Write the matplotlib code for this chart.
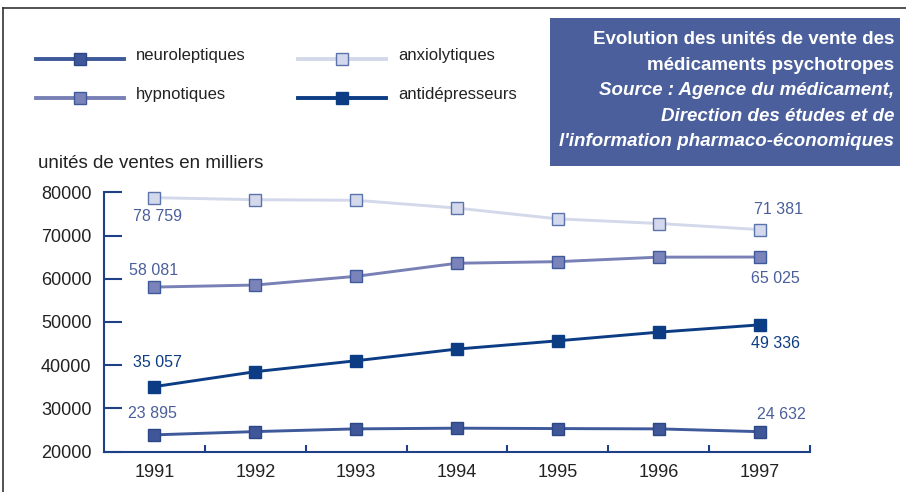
import matplotlib
matplotlib.use("Agg")
import matplotlib.pyplot as plt
from matplotlib import font_manager
from matplotlib.lines import Line2D
from matplotlib.patches import Rectangle

years = [1991, 1992, 1993, 1994, 1995, 1996, 1997]
neuroleptiques = [23895, 24650, 25280, 25440, 25350, 25280, 24632]
anxiolytiques = [78759, 78290, 78150, 76350, 73860, 72780, 71381]
hypnotiques = [58081, 58550, 60570, 63590, 63960, 65000, 65025]
antidepresseurs = [35057, 38510, 41040, 43740, 45650, 47650, 49336]

first_labels = ["23 895", "78 759", "58 081", "35 057"]
last_labels = ["24 632", "71 381", "65 025", "49 336"]
yticks = [20000, 30000, 40000, 50000, 60000, 70000, 80000]

title_lines = ["Evolution des unités de vente des",
               "médicaments psychotropes",
               "Source : Agence du médicament,",
               "Direction des études et de",
               "l'information pharmaco-économiques"]

installed = {f.name for f in font_manager.fontManager.ttflist}
base_font = "Liberation Sans" if "Liberation Sans" in installed else "DejaVu Sans"
narrow_font = "Liberation Sans Narrow" if "Liberation Sans Narrow" in installed else base_font
plt.rcParams['font.family'] = [base_font, 'DejaVu Sans']

axis_col = "#1d4086"
box_col = "#4a5f9b"

# (values, line colour, marker face, marker edge, label colour, first offset, last offset)
series = [
    ("neuroleptiques", neuroleptiques, "#3e5a9b", "#3f5799", "#2b4785", "#4a5f9b", (-2, 21), (22, 17)),
    ("anxiolytiques", anxiolytiques, "#d3d8ea", "#d3d8ec", "#5b73ab", "#4a5f9b", (3, -19), (19, 20)),
    ("hypnotiques", hypnotiques, "#7880b5", "#7a84ba", "#3e5a9b", "#4a5f9b", (-1, 17), (16, -21)),
    ("antidépresseurs", antidepresseurs, "#0c3c84", "#0c3c84", "#0c3c84", "#0c3c84", (3, 24), (16, -19)),
]

fig = plt.figure(figsize=(9.06, 4.92), dpi=100)
ax = fig.add_axes([104 / 906, 1 - 451.7 / 492, (810 - 104) / 906, (451.7 - 192.3) / 492])

for name, vals, lc, mfc, mec, tc, off0, off1 in series:
    ax.plot(years, vals, color=lc, lw=2.1, marker="s", ms=8, mfc=mfc, mec=mec,
            mew=1.0, clip_on=False, zorder=3)

for (name, vals, lc, mfc, mec, tc, off0, off1), t0, t1 in zip(series, first_labels, last_labels):
    ax.annotate(t0, (years[0], vals[0]), xytext=off0, textcoords="offset pixels",
                ha="center", va="center", fontsize=11.5, color=tc)
    ax.annotate(t1, (years[-1], vals[-1]), xytext=off1, textcoords="offset pixels",
                ha="center", va="center", fontsize=11.5, color=tc)

ax.set_xlim(1990.5, 1997.5)
ax.set_ylim(20000, 80000)
ax.set_yticks(yticks)
ax.set_yticklabels([str(v) for v in yticks])
ax.set_xticks(years)
ax.set_xticks([y + 0.5 for y in years], minor=True)
ax.tick_params(axis="y", direction="in", length=13, width=1.5, color=axis_col,
               labelsize=13, pad=9, labelcolor="#222222")
ax.tick_params(axis="x", which="major", length=0, labelsize=13, pad=9, labelcolor="#222222")
ax.tick_params(axis="x", which="minor", direction="in", length=5, width=1.5, color=axis_col)

for s in ["top", "right"]:
    ax.spines[s].set_visible(False)
for s in ["left", "bottom"]:
    ax.spines[s].set_color(axis_col)
    ax.spines[s].set_linewidth(1.5)

fig.text(38 / 906, 1 - 163 / 492, "unités de ventes en milliers", fontsize=13.5,
         color="#222222", va="center", ha="left")

# legend drawn by hand to keep the 2x2 layout
leg_pos = [(36, 58.5), (298, 58.5), (36, 97.5), (298, 97.5)]
for (name, vals, lc, mfc, mec, tc, off0, off1), (lx, ly) in zip(series, leg_pos):
    yf = 1 - ly / 492
    fig.add_artist(Line2D([lx / 906, (lx + 88) / 906], [yf, yf], color=lc, lw=2.8))
    fig.add_artist(Line2D([(lx + 44) / 906], [yf], marker="s", ms=8, mfc=mfc, mec=mec, mew=1.0))
    fig.text((lx + 100) / 906, yf + 3 / 492, name, fontsize=12, color="#222222",
             va="center", ha="left")

# title box
fig.add_artist(Rectangle((550 / 906, 1 - 166 / 492), 350 / 906, 148 / 492,
                         transform=fig.transFigure, color=box_col, lw=0))
for i, line in enumerate(title_lines):
    fig.text(894 / 906, 1 - (40 + 25.4 * i) / 492, line, fontsize=13.5, color="white",
             ha="right", va="center", family=[narrow_font, 'DejaVu Sans'],
             fontweight="bold", style="italic" if i >= 2 else "normal")

# outer frame lines
fig.add_artist(Line2D([2.5 / 906, 1], [1 - 8 / 492, 1 - 8 / 492], color="#333333", lw=1.2))
fig.add_artist(Line2D([2.5 / 906, 2.5 / 906], [0, 1 - 8 / 492], color="#333333", lw=1.2))

fig.savefig("out.png", dpi=100)
